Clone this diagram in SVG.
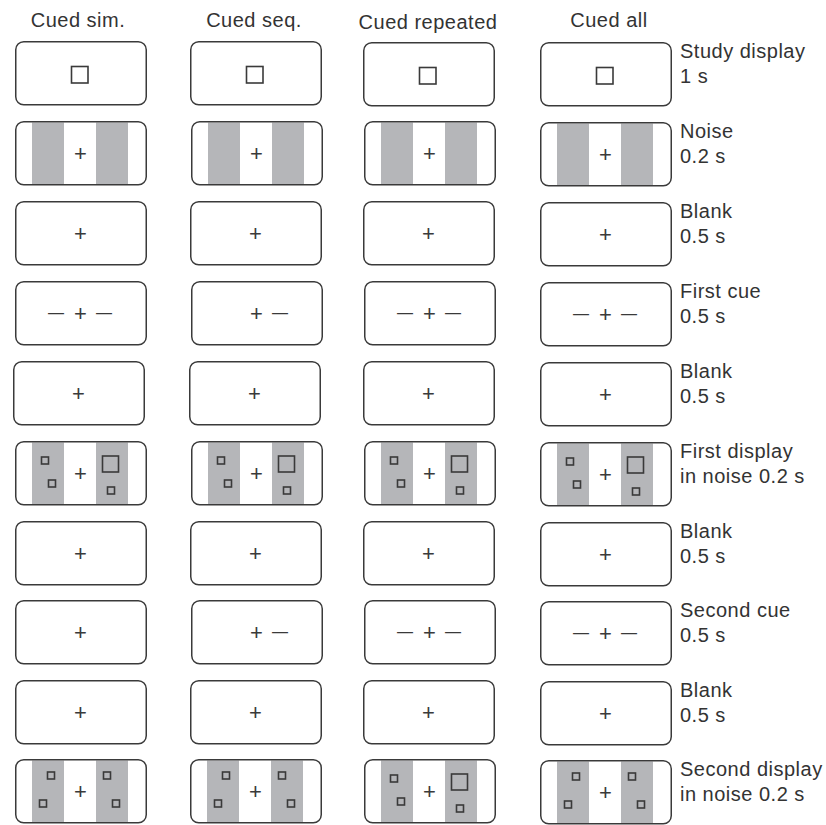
<svg xmlns="http://www.w3.org/2000/svg" xmlns:xlink="http://www.w3.org/1999/xlink" width="826" height="825" viewBox="0 0 826 825">
<style>
.box{fill:none;stroke:#3a3a3a;stroke-width:1.5}
.stripe{fill:#b5b6b9;stroke:none}
.sq{fill:none;stroke:#3a3a3a;stroke-width:1.6}
.sym{font-family:"Liberation Sans",Arial,sans-serif;fill:#3a3a3a;text-anchor:middle}
.plus{font-size:22px}
.dash{font-size:16px}
.hdr{font-family:"Liberation Sans",Arial,sans-serif;font-size:20px;letter-spacing:0.5px;fill:#333;text-anchor:middle}
.lbl{font-family:"Liberation Sans",Arial,sans-serif;font-size:20px;letter-spacing:0.5px;fill:#333}
</style>
<defs>
<rect id="frame" class="box" x="0.75" y="0.75" width="130.5" height="63" rx="8"/>
<g id="noise"><rect class="stripe" x="17" y="1.5" width="32" height="61.5"/><rect class="stripe" x="81" y="1.5" width="32" height="61.5"/></g>
<text id="plus" class="sym plus" x="65.5" y="40">+</text>
<text id="dashL" class="sym dash" x="41" y="36.5">—</text>
<text id="dashR" class="sym dash" x="89" y="36.5">—</text>
<rect id="bigsq" class="sq" x="56.5" y="25.5" width="16.5" height="16.5"/>
<g id="disp1">
<rect class="sq" x="26.5" y="16" width="7" height="7"/>
<rect class="sq" x="33.5" y="39" width="7" height="7"/>
<rect class="sq" x="87.5" y="15" width="16" height="16"/>
<rect class="sq" x="92.5" y="46" width="7" height="7"/>
</g>
<g id="disp2">
<rect class="sq" x="32.5" y="13" width="7" height="7"/>
<rect class="sq" x="24.5" y="41" width="7" height="7"/>
<rect class="sq" x="88.5" y="13" width="7" height="7"/>
<rect class="sq" x="97.5" y="41" width="7" height="7"/>
</g>
</defs>
<rect width="826" height="825" fill="#fff"/>
<g id="headers">
<text class="hdr" x="78" y="27">Cued sim.</text>
<text class="hdr" x="254" y="27">Cued seq.</text>
<text class="hdr" x="428" y="29">Cued repeated</text>
<text class="hdr" x="609" y="27">Cued all</text>
</g>
<g id="labels">
<g id="lbl-study"><text class="lbl" x="680" y="58">Study display</text><text class="lbl" x="680" y="83">1 s</text></g>
<g id="lbl-noise"><text class="lbl" x="680" y="138">Noise</text><text class="lbl" x="680" y="163">0.2 s</text></g>
<g id="lbl-blank1"><text class="lbl" x="680" y="218">Blank</text><text class="lbl" x="680" y="243">0.5 s</text></g>
<g id="lbl-cue1"><text class="lbl" x="680" y="298">First cue</text><text class="lbl" x="680" y="323">0.5 s</text></g>
<g id="lbl-blank2"><text class="lbl" x="680" y="378">Blank</text><text class="lbl" x="680" y="403">0.5 s</text></g>
<g id="lbl-disp1"><text class="lbl" x="680" y="458">First display</text><text class="lbl" x="680" y="483">in noise 0.2 s</text></g>
<g id="lbl-blank3"><text class="lbl" x="680" y="538">Blank</text><text class="lbl" x="680" y="563">0.5 s</text></g>
<g id="lbl-cue2"><text class="lbl" x="680" y="617">Second cue</text><text class="lbl" x="680" y="642">0.5 s</text></g>
<g id="lbl-blank4"><text class="lbl" x="680" y="697">Blank</text><text class="lbl" x="680" y="722">0.5 s</text></g>
<g id="lbl-disp2"><text class="lbl" x="680" y="776">Second display</text><text class="lbl" x="680" y="801">in noise 0.2 s</text></g>
</g>
<!-- Column 1: Cued sim. -->
<g id="sim-study" transform="translate(15,41)"><use href="#frame"/><use href="#bigsq"/></g>
<g id="sim-noise" transform="translate(15,121)"><use href="#noise"/><use href="#frame"/><use href="#plus"/></g>
<g id="sim-blank1" transform="translate(15,201)"><use href="#frame"/><use href="#plus"/></g>
<g id="sim-cue1" transform="translate(15,281)"><use href="#frame"/><use href="#dashL"/><use href="#plus"/><use href="#dashR"/></g>
<g id="sim-blank2" transform="translate(13,361)"><use href="#frame"/><use href="#plus"/></g>
<g id="sim-disp1" transform="translate(15,441)"><use href="#noise"/><use href="#frame"/><use href="#plus"/><use href="#disp1"/></g>
<g id="sim-blank3" transform="translate(15,521)"><use href="#frame"/><use href="#plus"/></g>
<g id="sim-cue2" transform="translate(15,600)"><use href="#frame"/><use href="#plus"/></g>
<g id="sim-blank4" transform="translate(15,680)"><use href="#frame"/><use href="#plus"/></g>
<g id="sim-disp2" transform="translate(15,759)"><use href="#noise"/><use href="#frame"/><use href="#plus"/><use href="#disp2"/></g>
<!-- Column 2: Cued seq. -->
<g id="seq-study" transform="translate(190,41)"><use href="#frame"/><use href="#bigsq"/></g>
<g id="seq-noise" transform="translate(191,121)"><use href="#noise"/><use href="#frame"/><use href="#plus"/></g>
<g id="seq-blank1" transform="translate(190,201)"><use href="#frame"/><use href="#plus"/></g>
<g id="seq-cue1" transform="translate(191,281)"><use href="#frame"/><use href="#plus"/><use href="#dashR"/></g>
<g id="seq-blank2" transform="translate(189,361)"><use href="#frame"/><use href="#plus"/></g>
<g id="seq-disp1" transform="translate(191,441)"><use href="#noise"/><use href="#frame"/><use href="#plus"/><use href="#disp1"/></g>
<g id="seq-blank3" transform="translate(190,521)"><use href="#frame"/><use href="#plus"/></g>
<g id="seq-cue2" transform="translate(191,600)"><use href="#frame"/><use href="#plus"/><use href="#dashR"/></g>
<g id="seq-blank4" transform="translate(190,680)"><use href="#frame"/><use href="#plus"/></g>
<g id="seq-disp2" transform="translate(190,759)"><use href="#noise"/><use href="#frame"/><use href="#plus"/><use href="#disp2"/></g>
<!-- Column 3: Cued repeated -->
<g id="rep-study" transform="translate(363,42)"><use href="#frame"/><use href="#bigsq"/></g>
<g id="rep-noise" transform="translate(364,121)"><use href="#noise"/><use href="#frame"/><use href="#plus"/></g>
<g id="rep-blank1" transform="translate(363,201)"><use href="#frame"/><use href="#plus"/></g>
<g id="rep-cue1" transform="translate(364,281)"><use href="#frame"/><use href="#dashL"/><use href="#plus"/><use href="#dashR"/></g>
<g id="rep-blank2" transform="translate(363,361)"><use href="#frame"/><use href="#plus"/></g>
<g id="rep-disp1" transform="translate(364,441)"><use href="#noise"/><use href="#frame"/><use href="#plus"/><use href="#disp1"/></g>
<g id="rep-blank3" transform="translate(363,521)"><use href="#frame"/><use href="#plus"/></g>
<g id="rep-cue2" transform="translate(364,600)"><use href="#frame"/><use href="#dashL"/><use href="#plus"/><use href="#dashR"/></g>
<g id="rep-blank4" transform="translate(363,680)"><use href="#frame"/><use href="#plus"/></g>
<g id="rep-disp2" transform="translate(364,759)"><use href="#noise"/><use href="#frame"/><use href="#plus"/><use href="#disp1"/></g>
<!-- Column 4: Cued all -->
<g id="all-study" transform="translate(540,42)"><use href="#frame"/><use href="#bigsq"/></g>
<g id="all-noise" transform="translate(540,122)"><use href="#noise"/><use href="#frame"/><use href="#plus"/></g>
<g id="all-blank1" transform="translate(540,202)"><use href="#frame"/><use href="#plus"/></g>
<g id="all-cue1" transform="translate(540,282)"><use href="#frame"/><use href="#dashL"/><use href="#plus"/><use href="#dashR"/></g>
<g id="all-blank2" transform="translate(540,362)"><use href="#frame"/><use href="#plus"/></g>
<g id="all-disp1" transform="translate(540,442)"><use href="#noise"/><use href="#frame"/><use href="#plus"/><use href="#disp1"/></g>
<g id="all-blank3" transform="translate(540,522)"><use href="#frame"/><use href="#plus"/></g>
<g id="all-cue2" transform="translate(540,601)"><use href="#frame"/><use href="#dashL"/><use href="#plus"/><use href="#dashR"/></g>
<g id="all-blank4" transform="translate(540,681)"><use href="#frame"/><use href="#plus"/></g>
<g id="all-disp2" transform="translate(540,760)"><use href="#noise"/><use href="#frame"/><use href="#plus"/><use href="#disp2"/></g>
</svg>
